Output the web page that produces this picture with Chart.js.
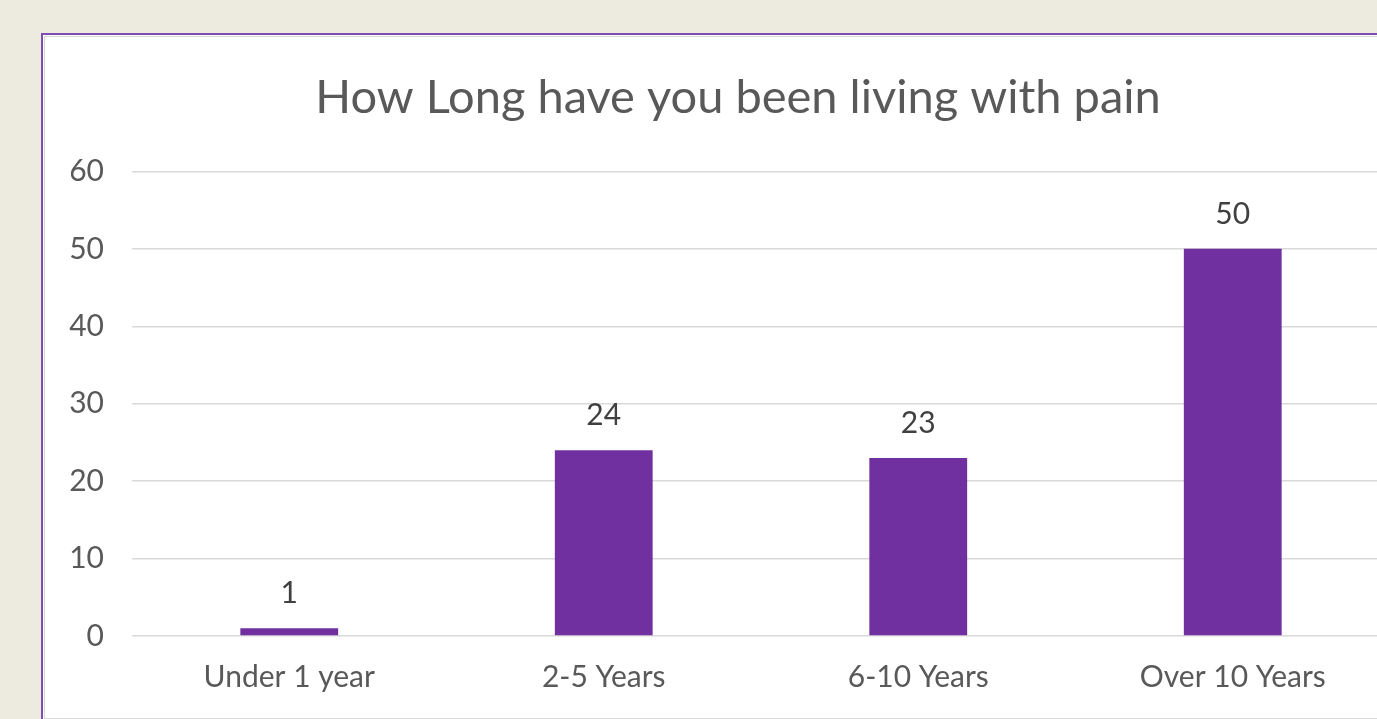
<!DOCTYPE html>
<html>
<head>
<meta charset="utf-8">
<script src="https://cdn.jsdelivr.net/npm/chart.js@4.4.1/dist/chart.umd.min.js"></script>
<style>
  html, body { margin: 0; padding: 0; width: 1377px; height: 719px; overflow: hidden; background: #EDEAE0; }
  #frame { position: absolute; left: 41px; top: 33px; width: 1500px; height: 800px;
           border-left: 2px solid #7E4CB3; border-top: 2px solid #7E4CB3; background: #ffffff; }
  #box { position: absolute; left: 1px; top: 1px; width: 1420px; height: 681px;
         border: 1px solid #D9D9D9; border-right: none; box-sizing: content-box; }
  canvas { display: block; }
</style>
</head>
<body>
<div id="frame"><div id="box"><canvas id="c" width="1420" height="681"></canvas></div></div>
<script>
const categories = ['Under 1 year', '2-5 Years', '6-10 Years', 'Over 10 Years'];
const responses = [1, 24, 23, 50];
const yTicks = [0, 10, 20, 30, 40, 50, 60];
const chartTitle = 'How Long have you been living with pain';

const FONT = 'Lato, "Open Sans", sans-serif';

// Writes each bar's value centred above it
const valueLabels = {
  id: 'valueLabels',
  afterDatasetsDraw(chart) {
    const ctx = chart.ctx;
    ctx.save();
    ctx.font = '30px ' + FONT;
    ctx.fillStyle = '#404040';
    ctx.textAlign = 'center';
    ctx.textBaseline = 'middle';
    chart.getDatasetMeta(0).data.forEach((bar, i) => {
      ctx.fillText(String(responses[i]), bar.x, bar.y - 35);
    });
    ctx.restore();
  }
};

// Centres the title over the visible panel rather than the full canvas width
const titleOffset = {
  id: 'titleOffset',
  afterLayout(chart) {
    if (chart.titleBlock) chart.titleBlock.left += 41;
  }
};

new Chart(document.getElementById('c'), {
  type: 'bar',
  data: {
    labels: categories,
    datasets: [{
      data: responses,
      backgroundColor: '#7030A0',
      borderWidth: 0,
      barPercentage: 0.311,
      categoryPercentage: 1
    }]
  },
  options: {
    responsive: false,
    animation: false,
    layout: { padding: { left: 0, right: 75, top: 0, bottom: 0 } },
    plugins: {
      legend: { display: false },
      tooltip: { enabled: false },
      title: {
        display: true,
        text: chartTitle,
        color: '#595959',
        font: { family: FONT, size: 47, weight: 'normal' },
        padding: { top: 33, bottom: 45 }
      }
    },
    scales: {
      x: {
        grid: { display: false, drawTicks: false },
        border: { display: false },
        ticks: { color: '#595959', font: { family: FONT, size: 30 }, padding: 23, maxRotation: 0 },
        afterFit(scale) { scale.height = 82; }
      },
      y: {
        min: 0,
        max: 60,
        afterBuildTicks(scale) { scale.ticks = yTicks.map(v => ({ value: v })); },
        grid: { color: '#D9D9D9', lineWidth: 1.5, drawTicks: false },
        border: { display: false },
        ticks: { color: '#595959', font: { family: FONT, size: 30 }, padding: 28 },
        afterFit(scale) { scale.width = 87; }
      }
    }
  },
  plugins: [valueLabels, titleOffset]
});
</script>
</body>
</html>
